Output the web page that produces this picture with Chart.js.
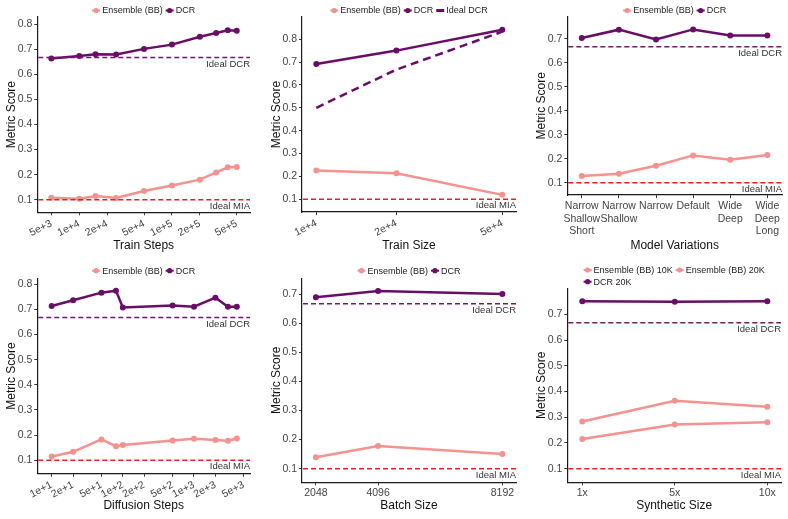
<!DOCTYPE html>
<html><head><meta charset="utf-8">
<script src="https://cdn.jsdelivr.net/npm/chart.js@4.4.1/dist/chart.umd.min.js"></script>
<style>
html,body{margin:0;padding:0;background:#fff;}
#wrap{position:relative;width:788px;height:519px;overflow:hidden;background:#fff;}
canvas{position:absolute;}
</style></head><body>
<div id="wrap">
<canvas id="c1" width="262" height="255" style="left:0px;top:0px"></canvas>
<canvas id="c2" width="262" height="255" style="left:262px;top:0px"></canvas>
<canvas id="c3" width="264" height="255" style="left:524px;top:0px"></canvas>
<canvas id="c4" width="262" height="264" style="left:0px;top:255px"></canvas>
<canvas id="c5" width="262" height="264" style="left:262px;top:255px"></canvas>
<canvas id="c6" width="264" height="264" style="left:524px;top:255px"></canvas>
</div>
<script>
// ---------------- DATA ----------------
const trainSteps = [5000, 10000, 15000, 25000, 50000, 100000, 200000, 300000, 400000, 500000];
const trainStepsEnsemble = [0.108, 0.104, 0.115, 0.107, 0.135, 0.157, 0.180, 0.209, 0.229, 0.230];
const trainStepsDCR = [0.663, 0.673, 0.680, 0.679, 0.701, 0.718, 0.749, 0.764, 0.775, 0.773];
const trainStepsTicks = [5e3, 1e4, 2e4, 5e4, 1e5, 2e5, 5e5];
const trainStepsTickLabels = ['5e+3', '1e+4', '2e+4', '5e+4', '1e+5', '2e+5', '5e+5'];

const trainSize = [10000, 20000, 50000];
const trainSizeEnsemble = [0.225, 0.213, 0.119];
const trainSizeDCR = [0.691, 0.750, 0.841];
const trainSizeIdealDCR = [0.500, 0.667, 0.833];
const trainSizeTicks = [1e4, 2e4, 5e4];
const trainSizeTickLabels = ['1e+4', '2e+4', '5e+4'];

const modelVariations = [['Narrow', 'Shallow', 'Short'], ['Narrow', 'Shallow'], 'Narrow', 'Default', ['Wide', 'Deep'], ['Wide', 'Deep', 'Long']];
const modelEnsemble = [0.128, 0.138, 0.171, 0.214, 0.196, 0.216];
const modelDCR = [0.703, 0.738, 0.697, 0.739, 0.714, 0.714];

const diffusionSteps = [10, 20, 50, 80, 100, 500, 1000, 2000, 3000, 4000];
const diffusionEnsemble = [0.115, 0.134, 0.183, 0.156, 0.161, 0.179, 0.186, 0.181, 0.178, 0.187];
const diffusionDCR = [0.713, 0.736, 0.766, 0.774, 0.707, 0.715, 0.710, 0.746, 0.710, 0.710];
const diffusionTicks = [10, 20, 50, 100, 200, 500, 1000, 2000, 5000];
const diffusionTickLabels = ['1e+1', '2e+1', '5e+1', '1e+2', '2e+2', '5e+2', '1e+3', '2e+3', '5e+3'];

const batchSizes = [2048, 4096, 8192];
const batchEnsemble = [0.139, 0.178, 0.150];
const batchDCR = [0.690, 0.711, 0.701];

const syntheticSizes = ['1x', '5x', '10x'];
const synthEnsemble10K = [0.283, 0.364, 0.341];
const synthEnsemble20K = [0.215, 0.272, 0.280];
const synthDCR20K = [0.751, 0.749, 0.751];

const idealDCR = 0.667;
const idealMIA = 0.1;
const yTicksTo8 = [0.1, 0.2, 0.3, 0.4, 0.5, 0.6, 0.7, 0.8];
const yTicksTo7 = [0.1, 0.2, 0.3, 0.4, 0.5, 0.6, 0.7];

// ---------------- STYLE ----------------
const FAMILY = '"Liberation Sans", Arial, Helvetica, sans-serif';
const DCR_COLOR = '#690d67';
const ENS_COLOR = '#f5918f';
const MIA_COLOR = '#f01c1c';
const IDEAL_DCR_COLOR = '#6e1a6d';
const TICK_COLOR = '#444';
const LEG_FONT = 9;

Chart.defaults.font.family = FAMILY;

const extras = {
  id: 'extras',
  afterDatasetsDraw(chart, args, opts) {
    const {ctx, chartArea: a} = chart;
    const y = chart.scales.y;
    (opts.hlines || []).forEach(h => {
      const py = y.getPixelForValue(h.value);
      ctx.save();
      ctx.strokeStyle = h.color; ctx.lineWidth = 1.5; ctx.setLineDash([5, 3]);
      ctx.beginPath(); ctx.moveTo(a.left + 1, py); ctx.lineTo(a.right, py); ctx.stroke();
      ctx.setLineDash([]);
      ctx.font = '9.5px ' + FAMILY; ctx.fillStyle = '#333';
      ctx.textAlign = 'right'; ctx.textBaseline = 'middle';
      ctx.fillText(h.label, a.right, py + 6.5);
      ctx.restore();
    });
  },
  afterDraw(chart, args, opts) {
    const {ctx, chartArea: a} = chart;
    const ds = chart.data.datasets;
    const rows = opts.legendRows || [ds.map((d, i) => i)];
    const KEY_W = 8, KEY_GAP = 2, ITEM_GAP = 3;
    ctx.save();
    ctx.font = LEG_FONT + 'px ' + FAMILY;
    const itemW = i => KEY_W + KEY_GAP + ctx.measureText(ds[i].label).width;
    const rowW = r => r.reduce((s, i, k) => s + itemW(i) + (k ? ITEM_GAP : 0), 0);
    const blockW = Math.max(...rows.map(rowW));
    const x0 = (a.left + a.right) / 2 - blockW / 2;
    rows.forEach((r, ri) => {
      let x = x0;
      const cy = opts.legendY + ri * (opts.legendRowH || 11.7);
      r.forEach(i => {
        const d = ds[i];
        ctx.strokeStyle = d.borderColor; ctx.fillStyle = d.borderColor;
        if (d.borderDash && d.borderDash.length) {
          ctx.lineWidth = 3;
          ctx.beginPath(); ctx.moveTo(x, cy); ctx.lineTo(x + KEY_W, cy); ctx.stroke();
        } else {
          ctx.lineWidth = 2;
          ctx.beginPath(); ctx.moveTo(x, cy); ctx.lineTo(x + KEY_W, cy); ctx.stroke();
          ctx.beginPath(); ctx.arc(x + KEY_W / 2, cy, 2.6, 0, Math.PI * 2); ctx.fill();
        }
        ctx.fillStyle = '#222'; ctx.textAlign = 'left'; ctx.textBaseline = 'middle';
        ctx.fillText(d.label, x + KEY_W + KEY_GAP, cy + 0.5);
        x += itemW(i) + ITEM_GAP;
      });
    });
    ctx.restore();
  }
};

function series(label, xs, ys, color, extra) {
  return Object.assign({
    label, borderColor: color, backgroundColor: color,
    data: xs.map((x, i) => ({x, y: ys[i]})),
    borderWidth: 2.5, pointRadius: 3, pointHoverRadius: 3, pointBorderWidth: 0,
    pointBackgroundColor: color, tension: 0, fill: false
  }, extra || {});
}
const idx = arr => arr.map((_, i) => i);

function makePanel(p) {
  const xScale = Object.assign({
    bounds: 'data',
    afterBuildTicks: s => { s.ticks = p.xTicks.map(v => ({value: v})); },
    afterFit: s => { s.height = p.H - p.B; },
    ticks: {
      autoSkip: false, color: TICK_COLOR, font: {size: 10.5}, padding: 2,
      minRotation: p.rot, maxRotation: p.rot,
      callback: (v, i) => p.xLabels[i]
    },
    grid: {display: true, drawOnChartArea: false, drawTicks: true, tickLength: 3, color: '#333', lineWidth: 1},
    border: {display: true, color: '#1a1a1a', width: 1.2},
    title: {display: true, text: p.xTitle, color: '#111', font: {size: 12}, padding: {top: 0, bottom: p.xTitlePad}}
  }, p.xScale);
  const yScale = {
    type: 'linear', bounds: 'data', min: p.yMin, max: p.yMax,
    afterBuildTicks: s => { s.ticks = p.yTicks.map(v => ({value: v})); },
    afterFit: s => { s.width = p.L; },
    ticks: {color: TICK_COLOR, font: {size: 10.5}, padding: 2, callback: v => v.toFixed(1)},
    grid: {display: true, drawOnChartArea: false, drawTicks: true, tickLength: 3, color: '#333', lineWidth: 1},
    border: {display: true, color: '#1a1a1a', width: 1.2},
    title: {display: true, text: 'Metric Score', color: '#111', font: {size: 12}, padding: {top: p.yTitlePad, bottom: 0}}
  };
  return new Chart(document.getElementById(p.id), {
    type: 'line',
    data: {datasets: p.datasets},
    options: {
      responsive: false, animation: false, devicePixelRatio: 1,
      layout: {padding: {top: p.T, right: p.W - p.R, left: 0, bottom: 0}},
      scales: {x: xScale, y: yScale},
      plugins: {
        legend: {display: false}, tooltip: {enabled: false},
        extras: {hlines: p.hlines, legendY: p.legendY, legendRows: p.legendRows, legendRowH: p.legendRowH}
      }
    },
    plugins: [extras]
  });
}

const hDCR = {value: idealDCR, color: IDEAL_DCR_COLOR, label: 'Ideal DCR'};
const hMIA = {value: idealMIA, color: MIA_COLOR, label: 'Ideal MIA'};

makePanel({
  id: 'c1', W: 262, H: 255, L: 37.3, R: 250, T: 17, B: 212.3,
  xScale: {type: 'logarithmic', min: 3530, max: 695000},
  xTicks: trainStepsTicks, xLabels: trainStepsTickLabels, rot: 27,
  yMin: 0.05, yMax: 0.828, yTicks: yTicksTo8, yTitlePad: 4.5,
  xTitle: 'Train Steps', xTitlePad: 1.8, legendY: 10.5,
  hlines: [hDCR, hMIA],
  datasets: [
    series('Ensemble (BB)', trainSteps, trainStepsEnsemble, ENS_COLOR),
    series('DCR', trainSteps, trainStepsDCR, DCR_COLOR)
  ]
});

makePanel({
  id: 'c2', W: 262, H: 255, L: 40, R: 254, T: 17, B: 212,
  xScale: {type: 'logarithmic', min: 8835, max: 56300},
  xTicks: trainSizeTicks, xLabels: trainSizeTickLabels, rot: 27,
  yMin: 0.044, yMax: 0.897, yTicks: yTicksTo8, yTitlePad: 7.8,
  xTitle: 'Train Size', xTitlePad: 1.8, legendY: 10.5,
  hlines: [hMIA],
  datasets: [
    series('Ensemble (BB)', trainSize, trainSizeEnsemble, ENS_COLOR),
    series('DCR', trainSize, trainSizeDCR, DCR_COLOR),
    series('Ideal DCR', trainSize, trainSizeIdealDCR, DCR_COLOR, {pointRadius: 0, borderDash: [8, 5], borderWidth: 2.5})
  ]
});

makePanel({
  id: 'c3', W: 264, H: 255, L: 43.3, R: 258, T: 16.7, B: 195,
  xScale: {type: 'linear', min: -0.39, max: 5.395},
  xTicks: idx(modelVariations), xLabels: modelVariations, rot: 0,
  yMin: 0.049, yMax: 0.792, yTicks: yTicksTo7, yTitlePad: 10.1,
  xTitle: 'Model Variations', xTitlePad: 1.8, legendY: 10.5,
  hlines: [hDCR, hMIA],
  datasets: [
    series('Ensemble (BB)', idx(modelVariations), modelEnsemble, ENS_COLOR),
    series('DCR', idx(modelVariations), modelDCR, DCR_COLOR)
  ]
});

makePanel({
  id: 'c4', W: 262, H: 264, L: 37.3, R: 250, T: 23.3, B: 218.7,
  xScale: {type: 'logarithmic', min: 6.28, max: 6124},
  xTicks: diffusionTicks, xLabels: diffusionTickLabels, rot: 27,
  yMin: 0.047, yMax: 0.823, yTicks: yTicksTo8, yTitlePad: 4.5,
  xTitle: 'Diffusion Steps', xTitlePad: 6.1, legendY: 15.7,
  hlines: [hDCR, hMIA],
  datasets: [
    series('Ensemble (BB)', diffusionSteps, diffusionEnsemble, ENS_COLOR),
    series('DCR', diffusionSteps, diffusionDCR, DCR_COLOR)
  ]
});

makePanel({
  id: 'c5', W: 262, H: 264, L: 40, R: 254, T: 23.3, B: 227.3,
  xScale: {type: 'linear', min: 1590, max: 8640},
  xTicks: batchSizes, xLabels: batchSizes.map(String), rot: 0,
  yMin: 0.053, yMax: 0.755, yTicks: yTicksTo7, yTitlePad: 7.8,
  xTitle: 'Batch Size', xTitlePad: 6.1, legendY: 15.7,
  hlines: [hDCR, hMIA],
  datasets: [
    series('Ensemble (BB)', batchSizes, batchEnsemble, ENS_COLOR),
    series('DCR', batchSizes, batchDCR, DCR_COLOR)
  ]
});

makePanel({
  id: 'c6', W: 264, H: 264, L: 43.3, R: 257, T: 33.3, B: 227.3,
  xScale: {type: 'linear', min: -0.162, max: 2.148},
  xTicks: idx(syntheticSizes), xLabels: syntheticSizes, rot: 0,
  yMin: 0.047, yMax: 0.801, yTicks: yTicksTo7, yTitlePad: 10.1,
  xTitle: 'Synthetic Size', xTitlePad: 6.1, legendY: 15, legendRowH: 11.7,
  legendRows: [[0, 1], [2]],
  hlines: [hDCR, hMIA],
  datasets: [
    series('Ensemble (BB) 10K', idx(syntheticSizes), synthEnsemble10K, ENS_COLOR),
    series('Ensemble (BB) 20K', idx(syntheticSizes), synthEnsemble20K, ENS_COLOR),
    series('DCR 20K', idx(syntheticSizes), synthDCR20K, DCR_COLOR)
  ]
});
</script>
</body></html>
